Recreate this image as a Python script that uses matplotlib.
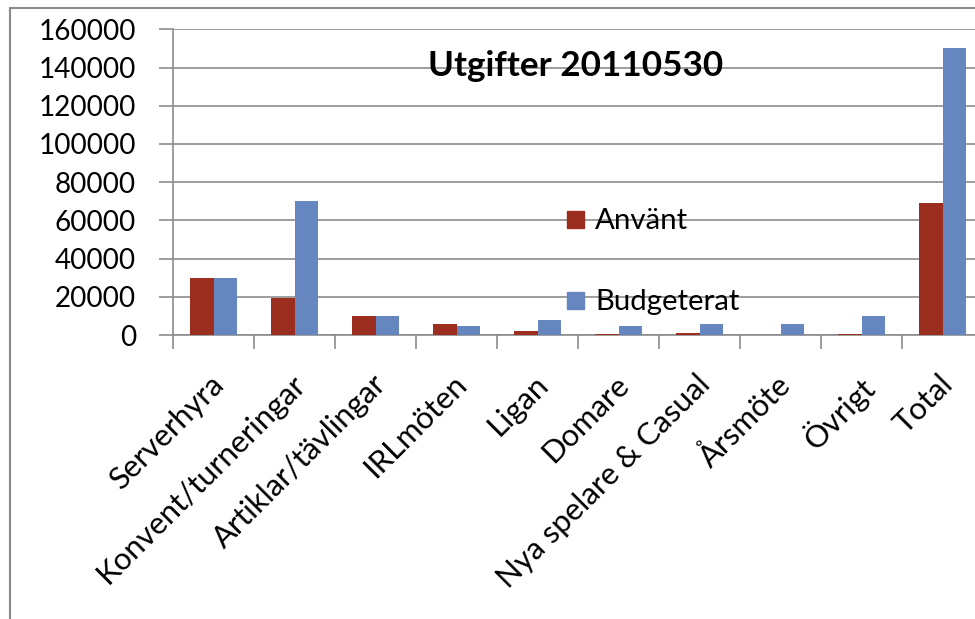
import matplotlib
matplotlib.use("Agg")
import matplotlib.pyplot as plt
from matplotlib.patches import Rectangle
import matplotlib.transforms as mtransforms
import numpy as np

plt.rcParams['font.family'] = ['Lato', 'DejaVu Sans']

categories = ["Serverhyra", "Konvent/turneringar", "Artiklar/tävlingar", "IRLmöten",
              "Ligan", "Domare", "Nya spelare & Casual", "Årsmöte", "Övrigt", "Total"]
anvant = [30000, 19500, 9700, 6000, 2200, 500, 1100, 0, 500, 69000]
budgeterat = [30000, 70000, 10200, 4700, 8100, 4800, 5900, 5900, 10200, 150000]
yticks = [0, 20000, 40000, 60000, 80000, 100000, 120000, 140000, 160000]
title = "Utgifter 20110530"
series_names = ["Använt", "Budgeterat"]

red = '#9C2E1F'
blue = '#6586BF'
grid_c = '#8C8C8C'

W, H = 975, 619
fig = plt.figure(figsize=(W/100, H/100), dpi=100)
renderer = fig.canvas.get_renderer()


def fit(text, target_px, weight='normal', guess=20):
    t = fig.text(0, 0, text, fontsize=guess, fontweight=weight)
    w = t.get_window_extent(renderer).width
    t.remove()
    return guess * target_px / w


def fx(px):
    return px / W


def fy(py):
    return 1 - py / H


ytick_fs = fit("160000", 97)
xtick_fs = fit("Nya spelare & Casual", 288)
title_fs = fit(title, 295, weight='bold')
leg_fs = fit("Budgeterat", 145)

# outer chart border
fig.patches.append(Rectangle((fx(10), -0.1), 1.2, fy(8) + 0.1, transform=fig.transFigure,
                             fill=False, edgecolor='#8A8A8A', lw=1.5))

ax = fig.add_axes([fx(173), fy(335), fx(810), (335 - 29.3) / H])
x = np.arange(len(categories))
w = 0.284
ax.bar(x - w/2, anvant, w, color=red, zorder=3)
ax.bar(x + w/2, budgeterat, w, color=blue, zorder=3)

ax.set_xlim(-0.5, len(categories) - 0.5)
ax.set_ylim(0, 160000)
ax.set_yticks(yticks)
ax.set_yticklabels([str(v) for v in yticks], fontsize=ytick_fs)
ax.yaxis.grid(True, color=grid_c, lw=1.2, zorder=0)
ax.tick_params(axis='y', length=10, color=grid_c, width=1.2, pad=23 * 0.72)

ax.set_xticks(x)
ax.set_xticklabels(categories, fontsize=xtick_fs, rotation=45, ha='right', va='top',
                   rotation_mode='anchor')
ax.tick_params(axis='x', length=0, pad=35 * 0.72)
shift = mtransforms.ScaledTranslation(-4 / 100, 0, fig.dpi_scale_trans)
for lab in ax.get_xticklabels():
    lab.set_transform(lab.get_transform() + shift)
ax.set_xticks(np.arange(len(categories) + 1) - 0.5, minor=True)
ax.tick_params(axis='x', which='minor', length=10, color=grid_c, width=1.2)

for s in ['top', 'right']:
    ax.spines[s].set_visible(False)
for s in ['left', 'bottom']:
    ax.spines[s].set_color(grid_c)
    ax.spines[s].set_linewidth(1.2)

fig.text(fx(575.5), fy(76), title, fontsize=title_fs, fontweight='bold',
         ha='center', va='baseline')

# legend
leg_rows = [(red, 211, 229), (blue, 292, 310)]
for (col, top, base), name in zip(leg_rows, series_names):
    fig.patches.append(Rectangle((fx(567), fy(top + 17)), fx(17), 17 / H,
                                 transform=fig.transFigure, color=col))
    fig.text(fx(595), fy(base), name, fontsize=leg_fs, ha='left', va='baseline')

fig.savefig("out.png", dpi=100)
